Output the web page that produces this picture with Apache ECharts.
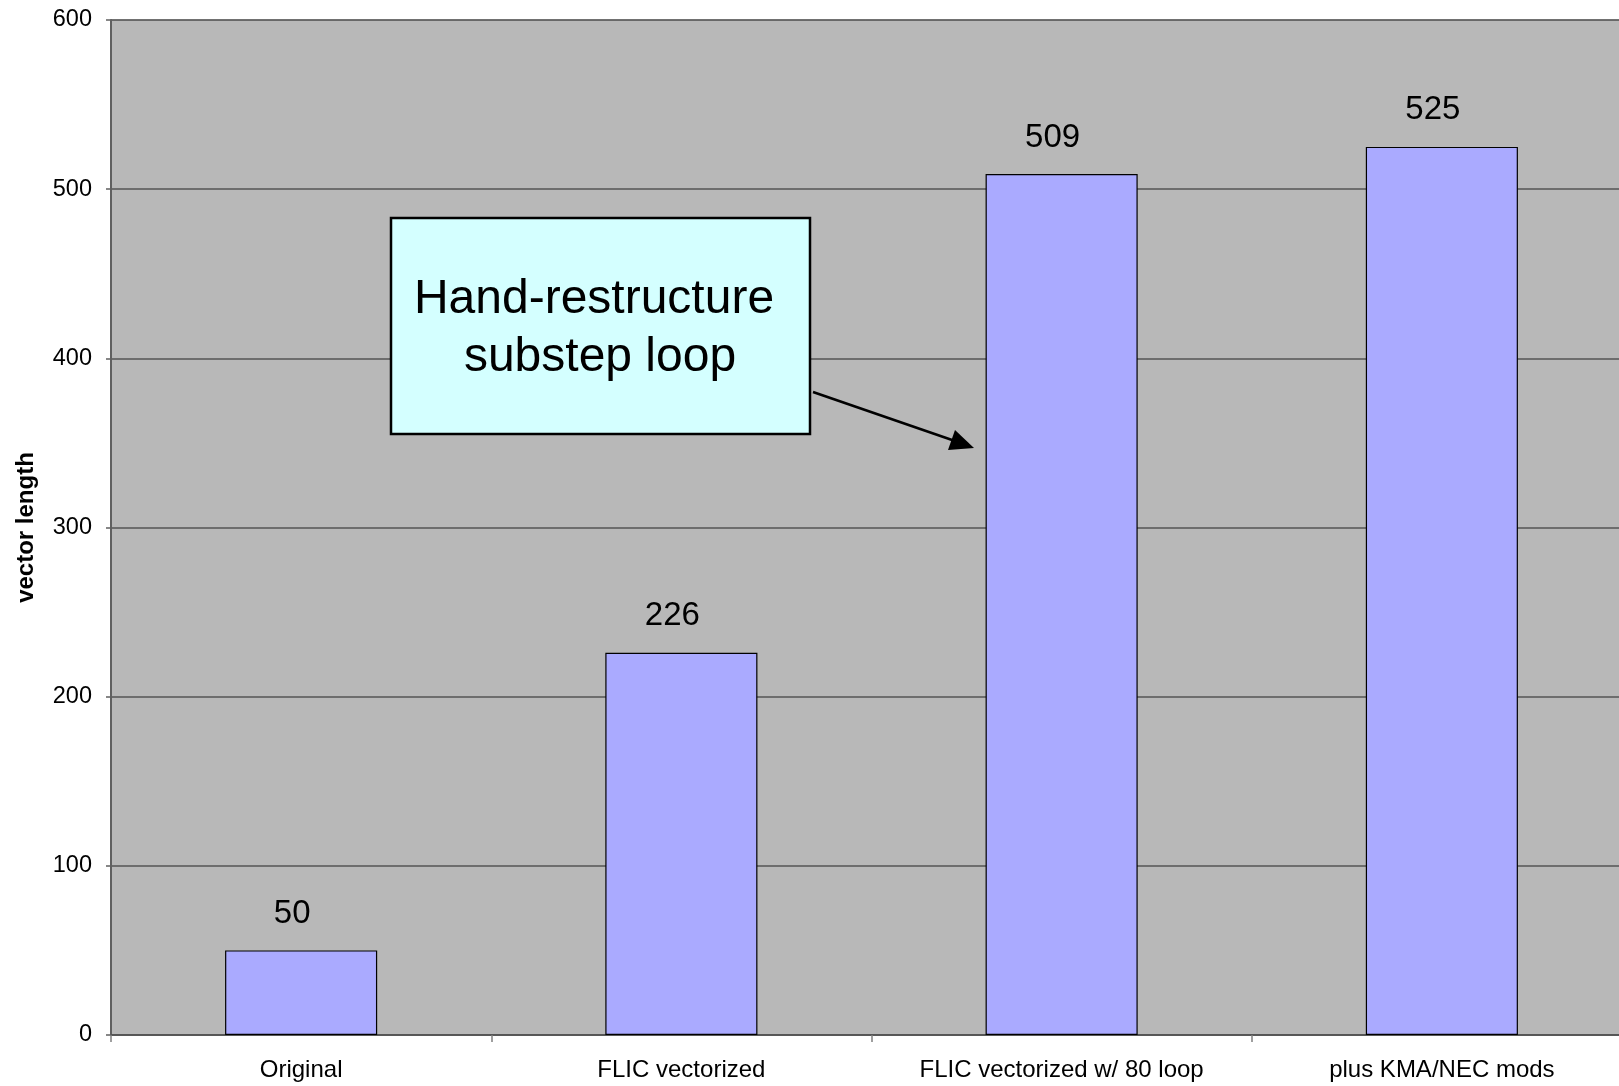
<!DOCTYPE html>
<html>
<head>
<meta charset="utf-8">
<script src="https://cdn.jsdelivr.net/npm/echarts@6/dist/echarts.min.js"></script>
<style>
html,body{margin:0;padding:0;background:#fff;}
#chart{width:1619px;height:1086px;}
</style>
</head>
<body>
<div id="chart"></div>
<script>
const categories = ['Original', 'FLIC vectorized', 'FLIC vectorized w/ 80 loop', 'plus KMA/NEC mods'];
const values = [50, 226, 509, 525];
const yTicks = [0, 100, 200, 300, 400, 500, 600];
const annotationLines = ['Hand-restructure', 'substep loop'];
const yAxisTitle = 'vector length';

const chart = echarts.init(document.getElementById('chart'));
const font = '"Liberation Sans", Arial, sans-serif';
chart.setOption({
  animation: false,
  backgroundColor: '#ffffff',
  grid: {
    left: 111, top: 20, width: 1521, height: 1015,
    outerBoundsMode: 'none', containLabel: false,
    show: true, backgroundColor: '#b8b8b8', borderColor: '#8a8a8a', borderWidth: 1
  },
  xAxis: {
    type: 'category',
    data: categories,
    axisLine: {lineStyle: {color: '#505050', width: 1.5}},
    axisTick: {show: true, length: 7, lineStyle: {color: '#808080', width: 1.5}},
    axisLabel: {color: '#000', fontFamily: font, fontSize: 24, margin: 23}
  },
  yAxis: {
    type: 'value',
    min: yTicks[0], max: yTicks[yTicks.length - 1], interval: 100,
    name: yAxisTitle,
    nameLocation: 'middle',
    nameGap: 73,
    nameRotate: 90,
    nameTextStyle: {color: '#000', fontFamily: font, fontSize: 24, fontWeight: 'bold'},
    axisLine: {show: true, lineStyle: {color: '#606060', width: 2}},
    axisTick: {show: true, length: 5, lineStyle: {color: '#606060', width: 1.5}},
    axisLabel: {color: '#000', fontFamily: font, fontSize: 23.5, margin: 19},
    splitLine: {show: true, lineStyle: {color: '#555555', width: 1.5}}
  },
  series: [{
    type: 'bar',
    data: values,
    barWidth: '40%',
    itemStyle: {color: '#aaaaff', borderColor: '#000', borderWidth: 1.2},
    label: {
      show: true, position: 'top', distance: 20, offset: [-9, 0],
      color: '#000', fontFamily: font, fontSize: 33
    }
  }],
  graphic: [
    {
      type: 'rect', z: 100,
      shape: {x: 391, y: 218, width: 419, height: 216},
      style: {fill: '#d4ffff', stroke: '#000', lineWidth: 2.5}
    },
    {
      type: 'text', z: 101,
      x: 594, y: 300,
      style: {
        text: annotationLines[0], fill: '#000', font: '48px ' + font,
        align: 'center', verticalAlign: 'middle'
      }
    },
    {
      type: 'text', z: 101,
      x: 600, y: 358,
      style: {
        text: annotationLines[1], fill: '#000', font: '48px ' + font,
        align: 'center', verticalAlign: 'middle'
      }
    },
    {
      type: 'line', z: 100,
      shape: {x1: 813, y1: 392, x2: 955, y2: 441},
      style: {stroke: '#000', lineWidth: 2.5}
    },
    {
      type: 'polygon', z: 100,
      shape: {points: [[974, 448], [948, 450], [955, 430]]},
      style: {fill: '#000'}
    }
  ]
});
</script>
</body>
</html>
